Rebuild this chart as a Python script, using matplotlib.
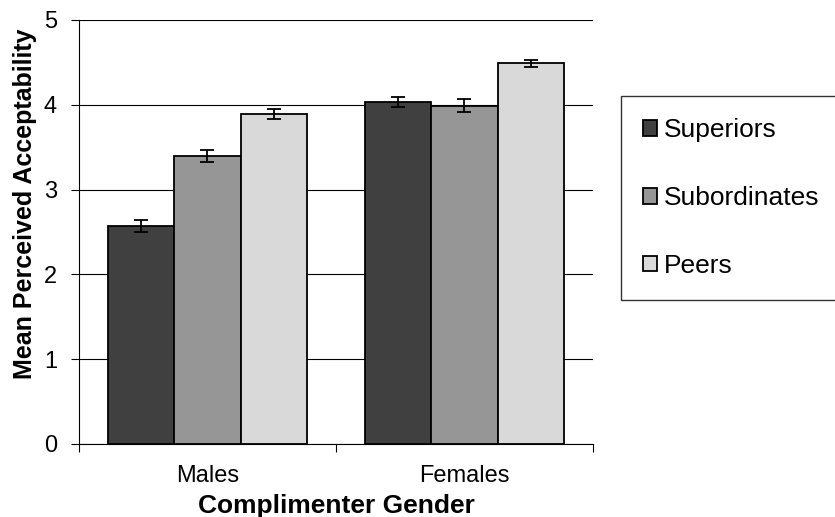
import matplotlib
matplotlib.use("Agg")
import matplotlib.pyplot as plt
import numpy as np

categories = ["Males", "Females"]
series_names = ["Superiors", "Subordinates", "Peers"]
superiors = [2.57, 4.03]
subordinates = [3.40, 3.99]
peers = [3.89, 4.49]
superiors_err = [0.075, 0.06]
subordinates_err = [0.07, 0.08]
peers_err = [0.063, 0.04]
colors = ["#404040", "#969696", "#d9d9d9"]

plt.rcParams['font.family'] = ['Liberation Sans', 'DejaVu Sans']

fig = plt.figure(figsize=(8.35, 5.17), dpi=100)
ax = fig.add_axes([79/835, 1-444/517, (593-79)/835, (444-20)/517])

x = np.arange(len(categories))
w = 0.258
vals = [superiors, subordinates, peers]
errs = [superiors_err, subordinates_err, peers_err]
for i, (v, e, c, name) in enumerate(zip(vals, errs, colors, series_names)):
    ax.bar(x + (i-1)*w, v, w, color=c, edgecolor='black', linewidth=1.3,
           label=name, zorder=3)
    ax.errorbar(x + (i-1)*w, v, yerr=e, fmt='none', ecolor='black',
                elinewidth=1.3, capsize=5, capthick=1.3, zorder=4)

ax.set_xlim(-0.5, 1.5)
ax.set_ylim(0, 5)
ax.set_yticks([0, 1, 2, 3, 4, 5])
ax.yaxis.grid(True, color='black', linewidth=0.8, zorder=0)
ax.set_axisbelow(True)
ax.set_xticks([-0.5, 0.5, 1.5])
ax.set_xticklabels([])
ax.set_xticks(x, minor=True)
ax.set_xticklabels(categories, minor=True, fontsize=17)
ax.tick_params(axis='x', which='minor', length=0, pad=15)
ax.tick_params(axis='x', which='major', direction='out', length=5.8, width=0.8)
ax.tick_params(axis='y', direction='out', length=5.8, width=0.8, labelsize=17, pad=10)
for s in ['top', 'right']:
    ax.spines[s].set_visible(False)
ax.spines['left'].set_linewidth(0.8)
ax.spines['bottom'].set_linewidth(0.8)

ax.set_xlabel("Complimenter Gender", fontsize=19, fontweight='bold', labelpad=5)
ax.set_ylabel("Mean Perceived Acceptability", fontsize=18, fontweight='bold')
ax.yaxis.set_label_coords(-0.082, 0.566)

leg = fig.legend(loc='upper left', bbox_to_anchor=(621/835, 1-96/517),
                 bbox_transform=fig.transFigure, fontsize=19, frameon=True,
                 fancybox=False, borderpad=0.85, labelspacing=1.66,
                 handlelength=0.53, handleheight=0.53, handletextpad=0.25,
                 borderaxespad=0)
leg.get_frame().set_edgecolor('black')
leg.get_frame().set_linewidth(1.0)
for p in leg.get_patches():
    p.set_linewidth(1.3)

fig.savefig("out.png", dpi=100)
